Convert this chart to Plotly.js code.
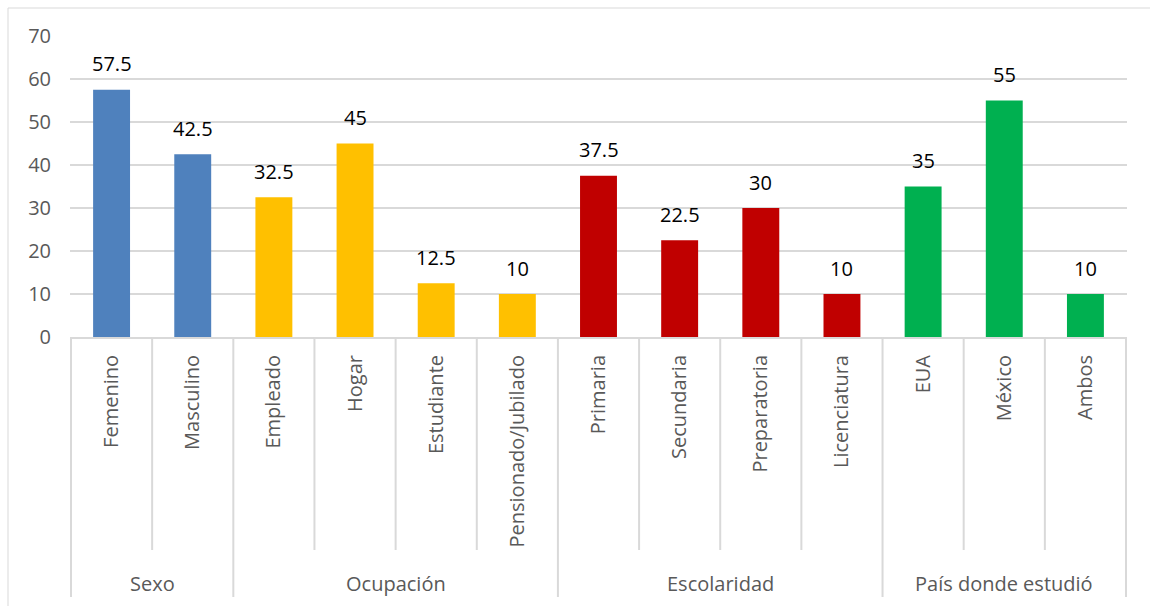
<!DOCTYPE html>
<html>
<head>
<meta charset="utf-8">
<script src="https://cdn.plot.ly/plotly-3.0.1.min.js"></script>
<style>
html,body{margin:0;padding:0;background:#fff;}
#chart{width:1150px;height:606px;}
</style>
</head>
<body>
<div id="chart"></div>
<script>
// ---- data ----
const categories = ['Femenino','Masculino','Empleado','Hogar','Estudiante','Pensionado/Jubilado','Primaria','Secundaria','Preparatoria','Licenciatura','EUA','México','Ambos'];
const values = [57.5, 42.5, 32.5, 45, 12.5, 10, 37.5, 22.5, 30, 10, 35, 55, 10];
const groups = ['Sexo','Sexo','Ocupación','Ocupación','Ocupación','Ocupación','Escolaridad','Escolaridad','Escolaridad','Escolaridad','País donde estudió','País donde estudió','País donde estudió'];
const groupNames = ['Sexo','Ocupación','Escolaridad','País donde estudió'];
const groupColors = ['#4F81BD','#FFC000','#C00000','#00B050'];
const yTicks = [0,10,20,30,40,50,60,70];

// ---- layout geometry (pixels) ----
const W = 1150, H = 606;
const L = 70, R = 1127, T = 36, B = 337;
const pw = R - L, ph = B - T;
const py = p => (B - p) / ph;   // pixel y -> paper y
const px = p => (p - L) / pw;   // pixel x -> paper x

const FONT = 'Open Sans, Noto Sans, sans-serif';
const LINE = '#D9D9D9';
const FS = 20;

const colors = groups.map(g => groupColors[groupNames.indexOf(g)]);

const trace = {
  type: 'bar',
  x: categories,
  y: values,
  marker: {color: colors, line: {width: 0}},
  hoverinfo: 'skip'
};

const shapes = [];
const annotations = [];

// inner separators between categories
for (let i = 0; i <= categories.length; i++) {
  const isGroupEdge = (i === 0 || i === categories.length || groups[i] !== groups[i-1]);
  shapes.push({
    type: 'line', xref: 'x', yref: 'paper',
    x0: i - 0.5, x1: i - 0.5,
    y0: 0, y1: isGroupEdge ? py(597) : py(550),
    line: {color: LINE, width: 2}
  });
}

// group labels
groupNames.forEach(g => {
  const idx = groups.map((v, i) => v === g ? i : -1).filter(i => i >= 0);
  const c = (idx[0] + idx[idx.length - 1]) / 2;
  annotations.push({
    xref: 'x', yref: 'paper', x: c, y: py(583),
    text: g, showarrow: false, xanchor: 'center', yanchor: 'middle',
    font: {family: FONT, size: FS, color: '#595959'}
  });
});

// data labels
categories.forEach((c, i) => {
  annotations.push({
    xref: 'x', yref: 'y', x: c, y: values[i],
    text: String(values[i]), showarrow: false,
    xanchor: 'center', yanchor: 'middle', yshift: 26,
    font: {family: FONT, size: FS, color: '#000000'}
  });
});

// outer chart border
shapes.push({
  type: 'rect', xref: 'paper', yref: 'paper',
  x0: px(8), x1: px(1152), y0: py(608), y1: py(8),
  line: {color: LINE, width: 1}, fillcolor: 'rgba(0,0,0,0)', layer: 'below'
});

const layout = {
  width: W, height: H,
  margin: {l: L, r: W - R, t: T, b: H - B, pad: 0},
  paper_bgcolor: '#fff', plot_bgcolor: '#fff',
  showlegend: false,
  bargap: 0.545,
  font: {family: FONT, color: '#595959'},
  xaxis: {
    type: 'category',
    tickangle: -90,
    showline: true, linecolor: LINE, linewidth: 2,
    showgrid: false, ticks: '', ticklabelstandoff: 8,
    tickfont: {family: FONT, size: FS, color: '#595959'},
    fixedrange: true
  },
  yaxis: {
    range: [0, 70],
    tickvals: yTicks,
    ticktext: yTicks.map(String),
    showgrid: true, gridcolor: LINE, gridwidth: 1.5,
    zeroline: false, showline: false, ticks: '',
    ticklabelstandoff: 18,
    tickfont: {family: FONT, size: FS, color: '#595959'},
    fixedrange: true
  },
  shapes: shapes,
  annotations: annotations
};

Plotly.newPlot('chart', [trace], layout, {staticPlot: true, displayModeBar: false});
</script>
</body>
</html>
